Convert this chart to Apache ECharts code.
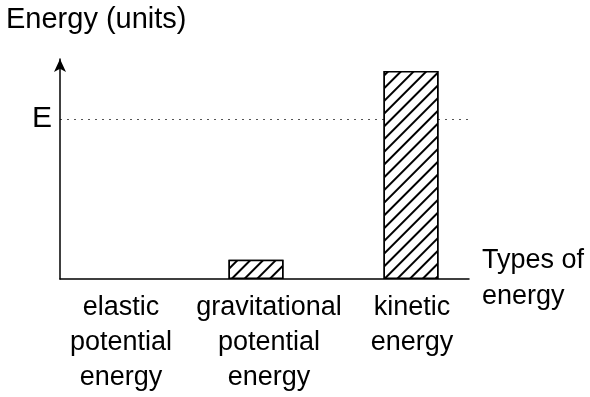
<!DOCTYPE html>
<html>
<head>
<meta charset="utf-8">
<script src="https://cdn.jsdelivr.net/npm/echarts@6/dist/echarts.min.js"></script>
<style>html,body{margin:0;padding:0;background:#fff}#c{width:590px;height:397px}</style>
</head>
<body>
<div id="c"></div>
<script>
const categories = ['elastic\npotential\nenergy', 'gravitational\npotential\nenergy', 'kinetic\nenergy'];
const energyValues = [0, 12, 130];
const levelE = 100;
const yMax = 137.5;
const levelLabel = 'E';
const yAxisTitle = 'Energy (units)';
const xAxisTitle = 'Types of\nenergy';

const FONT = '"Liberation Sans", Arial, sans-serif';
const labelShift = [40, 26, 2];
const rich = {};
labelShift.forEach((p, i) => {
  rich['s' + i] = { fontFamily: FONT, fontSize: 27, lineHeight: 35, color: '#000', padding: [0, 0, 0, p] };
});

const barData = energyValues.map(v => (v === 0 ? { value: v, itemStyle: { borderWidth: 0 } } : v));

const chart = echarts.init(document.getElementById('c'), null, { renderer: 'canvas' });
chart.setOption({
  animation: false,
  backgroundColor: '#fff',
  title: {
    text: yAxisTitle, left: 6, top: 5, padding: 0,
    textStyle: { fontFamily: FONT, fontSize: 29, fontWeight: 'normal', color: '#000' }
  },
  grid: [
    { left: 60, right: 121, top: 59, bottom: 118 },
    { left: 23.5, right: 101.5, top: 59, bottom: 118 }
  ],
  xAxis: [
    {
      gridIndex: 0, type: 'category', data: categories,
      axisLine: { lineStyle: { color: '#000', width: 1.5 } },
      axisTick: { show: false }, axisLabel: { show: false },
      name: xAxisTitle, nameLocation: 'end', nameGap: 13,
      nameTextStyle: { fontFamily: FONT, fontSize: 27, lineHeight: 36, color: '#000', align: 'left', verticalAlign: 'middle' }
    },
    {
      gridIndex: 1, type: 'category', data: categories,
      axisLine: { show: false }, axisTick: { show: false },
      axisLabel: {
        margin: 11, interval: 0,
        formatter: (v, i) => v.split('\n').map(l => '{s' + i + '|' + l + '}').join('\n'),
        rich: rich
      }
    }
  ],
  yAxis: [
    {
      gridIndex: 0, type: 'value', min: 0, max: yMax, interval: levelE,
      axisLine: { show: true, symbol: ['none', 'arrow'], symbolSize: [9, 13], lineStyle: { color: '#000', width: 1.5 } },
      axisTick: { show: false },
      axisLabel: {
        formatter: v => (v === levelE ? levelLabel : ''),
        fontFamily: FONT, fontSize: 30, color: '#000', margin: 8, showMaxLabel: false
      },
      splitLine: { show: true, showMinLine: false, showMaxLine: false, lineStyle: { type: [2, 5], color: '#555', width: 1 } }
    },
    { gridIndex: 1, type: 'value', min: 0, max: yMax, show: false }
  ],
  series: [{
    type: 'bar', xAxisIndex: 1, yAxisIndex: 1, data: barData, barWidth: 55, silent: true,
    itemStyle: {
      color: '#fff', borderColor: '#000', borderWidth: 1.5,
      decal: { symbol: 'rect', symbolSize: 1, dashArrayX: [1, 0], dashArrayY: [2, 6.5], rotation: -Math.PI / 4, color: '#000', backgroundColor: '#fff' }
    }
  }]
});
</script>
</body>
</html>
